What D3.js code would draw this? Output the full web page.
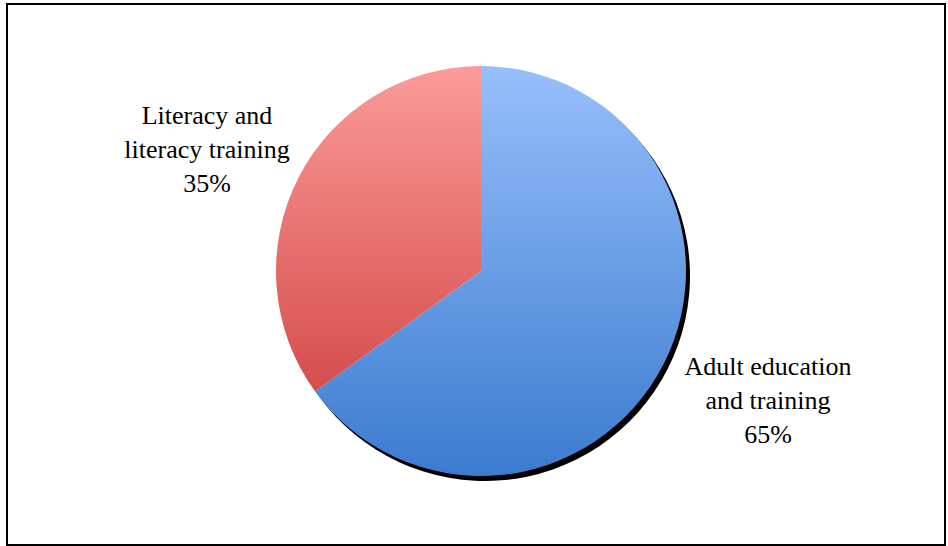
<!DOCTYPE html>
<html><head><meta charset="utf-8">
<script src="https://cdn.jsdelivr.net/npm/d3@7"></script>
<style>html,body{margin:0;padding:0;background:#fff;}svg{display:block;}</style>
</head><body>
<script>
const categories = ["Adult education and training", "Literacy and literacy training"];
const values = [65, 35];
const labelLines = [["Adult education", "and training", "65%"], ["Literacy and", "literacy training", "35%"]];

const W = 948, H = 546;
const cx = 481, cy = 271, R = 205;
const svg = d3.select("body").append("svg").attr("width", W).attr("height", H);

const defs = svg.append("defs");
const grads = [["#97bffb", "#3b7bcf"], ["#fa9b9a", "#cb3938"]];
grads.forEach((g, i) => {
  const lg = defs.append("linearGradient").attr("id", "g" + i)
    .attr("gradientUnits", "userSpaceOnUse")
    .attr("x1", 0).attr("y1", -R).attr("x2", 0).attr("y2", R);
  lg.append("stop").attr("offset", 0).attr("stop-color", g[0]);
  lg.append("stop").attr("offset", 1).attr("stop-color", g[1]);
});

svg.append("rect").attr("x", 7).attr("y", 4).attr("width", 938).attr("height", 541)
  .attr("fill", "none").attr("stroke", "#000").attr("stroke-width", 2);

const pie = d3.pie().sort(null).value(d => d)(values);
const arc = d3.arc().innerRadius(0).outerRadius(R);

const g = svg.append("g").attr("transform", `translate(${cx},${cy})`);
// shadow of the blue slice
g.append("path").attr("d", arc(pie[0])).attr("transform", "translate(4,5)").attr("fill", "#000");
g.selectAll("path.slice").data(pie).enter().append("path").attr("class", "slice")
  .attr("d", arc).attr("fill", (d, i) => `url(#g${i})`);

const labelPos = [[768, 375], [207, 124]];
labelLines.forEach((lines, i) => {
  const t = svg.append("text").attr("text-anchor", "middle")
    .attr("font-family", "'Liberation Serif','Times New Roman',serif")
    .attr("font-size", 26).attr("fill", "#000");
  lines.forEach((l, j) => {
    t.append("tspan").attr("x", labelPos[i][0]).attr("y", labelPos[i][1] + j * 34).text(l);
  });
});
</script>
</body></html>
